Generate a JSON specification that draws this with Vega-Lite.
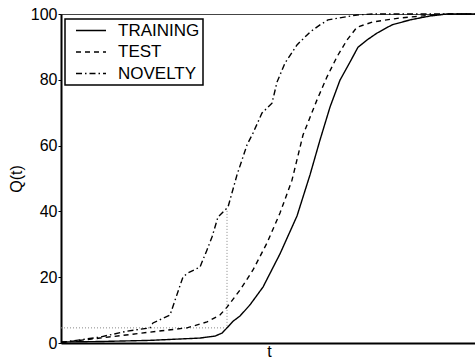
{
  "$schema": "https://vega.github.io/schema/vega-lite/v6.json",
  "autosize": "none",
  "width": 416,
  "height": 329,
  "padding": {"left": 61, "top": 14, "right": 0, "bottom": 17},
  "background": "white",
  "config": {
    "font": "Liberation Sans",
    "view": {"stroke": "#444", "strokeWidth": 1}
  },
  "datasets": {
    "curves": [
      {"set": "TRAINING", "t": 0, "q": 0.3},
      {"set": "TRAINING", "t": 39, "q": 0.45},
      {"set": "TRAINING", "t": 89, "q": 0.8},
      {"set": "TRAINING", "t": 139, "q": 1.5},
      {"set": "TRAINING", "t": 154, "q": 2.1},
      {"set": "TRAINING", "t": 161, "q": 3.0},
      {"set": "TRAINING", "t": 166, "q": 4.6},
      {"set": "TRAINING", "t": 172, "q": 6.6},
      {"set": "TRAINING", "t": 179, "q": 8.2},
      {"set": "TRAINING", "t": 189, "q": 11.6},
      {"set": "TRAINING", "t": 202, "q": 17.0},
      {"set": "TRAINING", "t": 219, "q": 27.1},
      {"set": "TRAINING", "t": 236, "q": 38.6},
      {"set": "TRAINING", "t": 249, "q": 51.1},
      {"set": "TRAINING", "t": 259, "q": 61.7},
      {"set": "TRAINING", "t": 269, "q": 71.7},
      {"set": "TRAINING", "t": 279, "q": 79.9},
      {"set": "TRAINING", "t": 289, "q": 85.4},
      {"set": "TRAINING", "t": 297, "q": 89.9},
      {"set": "TRAINING", "t": 306, "q": 92.1},
      {"set": "TRAINING", "t": 316, "q": 94.2},
      {"set": "TRAINING", "t": 331, "q": 96.7},
      {"set": "TRAINING", "t": 349, "q": 98.2},
      {"set": "TRAINING", "t": 369, "q": 99.4},
      {"set": "TRAINING", "t": 386, "q": 100},
      {"set": "TRAINING", "t": 416, "q": 100},
      {"set": "TEST", "t": 0, "q": 0.15},
      {"set": "TEST", "t": 39, "q": 1.5},
      {"set": "TEST", "t": 89, "q": 3.3},
      {"set": "TEST", "t": 126, "q": 4.6},
      {"set": "TEST", "t": 146, "q": 6.4},
      {"set": "TEST", "t": 159, "q": 8.5},
      {"set": "TEST", "t": 166, "q": 10.9},
      {"set": "TEST", "t": 179, "q": 16.1},
      {"set": "TEST", "t": 192, "q": 22.2},
      {"set": "TEST", "t": 206, "q": 30.4},
      {"set": "TEST", "t": 219, "q": 39.5},
      {"set": "TEST", "t": 231, "q": 49.5},
      {"set": "TEST", "t": 242, "q": 63.2},
      {"set": "TEST", "t": 256, "q": 73.9},
      {"set": "TEST", "t": 266, "q": 80.9},
      {"set": "TEST", "t": 276, "q": 87.0},
      {"set": "TEST", "t": 286, "q": 92.1},
      {"set": "TEST", "t": 296, "q": 96.0},
      {"set": "TEST", "t": 312, "q": 97.6},
      {"set": "TEST", "t": 339, "q": 98.8},
      {"set": "TEST", "t": 372, "q": 99.7},
      {"set": "TEST", "t": 389, "q": 100},
      {"set": "TEST", "t": 416, "q": 100},
      {"set": "NOVELTY", "t": 0, "q": 0.15},
      {"set": "NOVELTY", "t": 39, "q": 1.8},
      {"set": "NOVELTY", "t": 66, "q": 3.6},
      {"set": "NOVELTY", "t": 89, "q": 4.6},
      {"set": "NOVELTY", "t": 92, "q": 6.1},
      {"set": "NOVELTY", "t": 109, "q": 8.5},
      {"set": "NOVELTY", "t": 122, "q": 20.1},
      {"set": "NOVELTY", "t": 127, "q": 21.3},
      {"set": "NOVELTY", "t": 139, "q": 23.1},
      {"set": "NOVELTY", "t": 146, "q": 28.3},
      {"set": "NOVELTY", "t": 151, "q": 32.2},
      {"set": "NOVELTY", "t": 157, "q": 38.3},
      {"set": "NOVELTY", "t": 164, "q": 40.4},
      {"set": "NOVELTY", "t": 167, "q": 41.3},
      {"set": "NOVELTY", "t": 176, "q": 51.1},
      {"set": "NOVELTY", "t": 186, "q": 60.2},
      {"set": "NOVELTY", "t": 192, "q": 63.8},
      {"set": "NOVELTY", "t": 201, "q": 69.9},
      {"set": "NOVELTY", "t": 211, "q": 72.9},
      {"set": "NOVELTY", "t": 216, "q": 79.3},
      {"set": "NOVELTY", "t": 224, "q": 85.1},
      {"set": "NOVELTY", "t": 236, "q": 90.6},
      {"set": "NOVELTY", "t": 249, "q": 94.5},
      {"set": "NOVELTY", "t": 259, "q": 96.7},
      {"set": "NOVELTY", "t": 267, "q": 98.2},
      {"set": "NOVELTY", "t": 296, "q": 99.7},
      {"set": "NOVELTY", "t": 312, "q": 100},
      {"set": "NOVELTY", "t": 416, "q": 100}
    ],
    "guide": [
      {"i": 1, "t": 0, "q": 4.6},
      {"i": 2, "t": 166, "q": 4.6},
      {"i": 3, "t": 166, "q": 40.4}
    ]
  },
  "layer": [
    {
      "data": {"name": "guide"},
      "mark": {"type": "line", "color": "#888", "strokeWidth": 1, "strokeDash": [1, 2]},
      "encoding": {
        "x": {"field": "t", "type": "quantitative"},
        "y": {"field": "q", "type": "quantitative"},
        "order": {"field": "i"}
      }
    },
    {
      "data": {"name": "curves"},
      "mark": {"type": "line", "color": "black", "strokeWidth": 1.4},
      "encoding": {
        "x": {
          "field": "t", "type": "quantitative",
          "scale": {"domain": [0, 416], "nice": false, "zero": false},
          "axis": {
            "title": "t", "labels": false, "ticks": false, "grid": false,
            "domainColor": "black", "domainWidth": 2,
            "titleFontSize": 16, "titleFontWeight": "normal", "titlePadding": 0,
            "titleColor": "black"
          }
        },
        "y": {
          "field": "q", "type": "quantitative",
          "scale": {"domain": [0, 100], "nice": false},
          "axis": {
            "title": "Q(t)", "values": [0, 20, 40, 60, 80, 100], "grid": false,
            "domainColor": "black", "domainWidth": 2,
            "tickColor": "black", "tickSize": 3, "tickWidth": 1,
            "labelFontSize": 16, "labelColor": "black", "labelPadding": 1,
            "titleFontSize": 16, "titleFontWeight": "normal", "titleColor": "black",
            "titlePadding": 6
          }
        },
        "strokeDash": {
          "field": "set", "type": "nominal",
          "scale": {
            "domain": ["TRAINING", "TEST", "NOVELTY"],
            "range": [[1, 0], [5, 4], [6, 3, 1.5, 3]]
          },
          "legend": {
            "title": null,
            "orient": "none",
            "legendX": 4,
            "legendY": 5,
            "padding": 3,
            "strokeColor": "black",
            "fillColor": "white",
            "cornerRadius": 0,
            "symbolType": "M-2,0H2",
            "symbolSize": 225,
            "symbolOffset": 14.5,
            "symbolStrokeWidth": 1.4,
            "symbolStrokeColor": "black",
            "labelFontSize": 17,
            "labelColor": "black",
            "labelOffset": 18.5,
            "labelExpr": "datum.label + ' '",
            "rowPadding": 3.5,
            "encode": {"legend": {"update": {"strokeWidth": {"value": 1.5}}}}
          }
        }
      }
    }
  ]
}
